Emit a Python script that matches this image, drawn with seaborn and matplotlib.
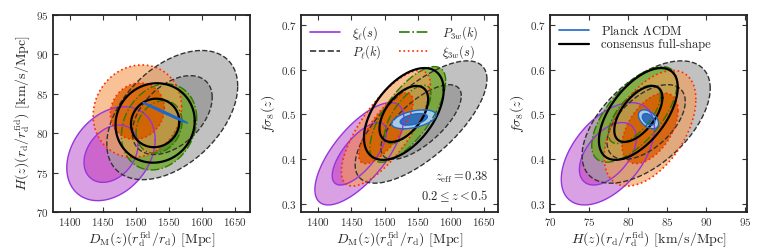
import numpy as np
import seaborn as sns
import matplotlib
matplotlib.use("Agg")
import matplotlib.pyplot as plt
from matplotlib.lines import Line2D
from matplotlib.path import Path
from matplotlib.patches import PathPatch
from matplotlib.colors import to_rgba

# Gaussian summaries: D_M, H, f sigma_8
names = ["xi_l", "P_l", "P_3w", "xi_3w", "consensus", "planck"]
dm_mean = [1462, 1555, 1535, 1502, 1529, 1544]
h_mean = [77.4, 82.3, 80.8, 82.8, 81.3, 82.6]
fs8_mean = [0.412, 0.483, 0.500, 0.469, 0.501, 0.489]
dm_err = [27, 40, 23, 27, 24.2, 13.5]
h_err = [2.4, 3.3, 2.2, 2.36, 2.03, 0.52]
fs8_err = [0.046, 0.055, 0.043, 0.052, 0.0413, 0.0085]
rho_dm_h = [0.3, 0.45, 0.2, 0.1, 0.05, -0.995]
rho_dm_fs8 = [0.7, 0.7, 0.7, 0.75, 0.52, 0.45]
rho_h_fs8 = [0.5, 0.55, 0.65, 0.5, 0.58, -0.45]

legend_fits = [r"$\xi_\ell(s)$", r"$P_\ell(k)$", r"$P_{3w}(k)$", r"$\xi_{3w}(s)$"]
legend_ref = [r"Planck $\Lambda$CDM", "consensus full-shape"]

# styles
fill_outer = ["#bb55cc", "#a0a0a0", "#6fa81f", "#f59d56", None, "#a8d0ee"]
fill_inner = ["#c040c0", "#808080", "#4d8a0f", "#e06000", None, "#2a6fc0"]
alpha_outer = [0.55, 0.65, 0.75, 0.62, 0, 0.95]
alpha_inner = [0.8, 0.75, 0.8, 0.88, 0, 0.95]
edge = ["#9933dd", "#333333", "#2a7a00", "#ff2a00", "black", "#1f66cc"]
styles = ["-", "--", "-.", ":", "-", "-"]
widths = [1.0, 1.0, 1.0, 1.2, 1.6, 1.0]

levels = [2.30, 6.17]  # 68% and 95% for two parameters

sns.set_theme(style="ticks")
plt.rcParams["font.family"] = "serif"
plt.rcParams["font.serif"] = ["cmr10"]
plt.rcParams["mathtext.fontset"] = "cm"
plt.rcParams["axes.formatter.use_mathtext"] = True
plt.rcParams["axes.unicode_minus"] = False

means = np.array([dm_mean, h_mean, fs8_mean])
errs = np.array([dm_err, h_err, fs8_err])
rhos = {(0, 1): rho_dm_h, (0, 2): rho_dm_fs8, (1, 2): rho_h_fs8}


def ellipse(k, i, j, level, n=240):
    sx, sy = errs[i, k], errs[j, k]
    r = rhos[(i, j)][k]
    cov = np.array([[sx * sx, r * sx * sy], [r * sx * sy, sy * sy]])
    L = np.linalg.cholesky(cov)
    t = np.linspace(0, 2 * np.pi, n)
    pts = (L @ np.vstack([np.cos(t), np.sin(t)])).T * np.sqrt(level)
    return pts + np.array([means[i, k], means[j, k]])


xlab_dm = r"$D_{\rm M}(z)(r_{\rm d}^{\rm fid}/r_{\rm d})$ [Mpc]"
lab_h = r"$H(z)(r_{\rm d}/r_{\rm d}^{\rm fid})$ [km/s/Mpc]"
lab_fs8 = r"$f\sigma_8(z)$"

panels = [
    dict(ix=0, iy=1, xlim=(1374, 1673), ylim=(70, 95), xt=np.arange(1400, 1651, 50),
         yt=np.arange(70, 96, 5), xl=xlab_dm, yl=lab_h, left=53),
    dict(ix=0, iy=2, xlim=(1374, 1671), ylim=(0.282, 0.722), xt=np.arange(1400, 1651, 50),
         yt=[0.3, 0.4, 0.5, 0.6, 0.7], xl=xlab_dm, yl=lab_fs8, left=301),
    dict(ix=1, iy=2, xlim=(70, 95.2), ylim=(0.282, 0.722), xt=np.arange(70, 96, 5),
         yt=[0.3, 0.4, 0.5, 0.6, 0.7], xl=lab_h, yl=lab_fs8, left=550),
]

fig = plt.figure(figsize=(7.64, 2.49), dpi=100)
axes = []
for p in panels:
    ax = fig.add_axes([p["left"] / 764, 37 / 249, 197 / 764, 197 / 249])
    axes.append(ax)
    i, j = p["ix"], p["iy"]
    for k in range(len(names)):
        inner = ellipse(k, i, j, levels[0])
        outer = ellipse(k, i, j, levels[1])
        if fill_outer[k] is not None:
            ring = Path.make_compound_path(Path(outer, closed=True),
                                           Path(inner[::-1], closed=True))
            ax.add_patch(PathPatch(ring, facecolor=to_rgba(fill_outer[k], alpha_outer[k]),
                                   edgecolor="none"))
            ax.add_patch(PathPatch(Path(inner, closed=True),
                                   facecolor=to_rgba(fill_inner[k], alpha_inner[k]),
                                   edgecolor="none"))
        for pts in (inner, outer):
            ax.plot(pts[:, 0], pts[:, 1], color=edge[k], ls=styles[k], lw=widths[k])
    ax.set_xlim(p["xlim"])
    ax.set_ylim(p["ylim"])
    ax.set_xticks(p["xt"])
    ax.set_yticks(p["yt"])
    ax.set_xlabel(p["xl"], fontsize=10, labelpad=1)
    ax.set_ylabel(p["yl"], fontsize=10, labelpad=3)
    ax.tick_params(direction="in", top=True, right=True, length=3.5, width=0.8,
                   labelsize=8, colors="#333333", labelcolor="#333333", pad=3)
    for s in ax.spines.values():
        s.set_linewidth(1.3)
        s.set_color("#222222")

# legends
h_fit = [Line2D([], [], color=edge[k], ls=styles[k], lw=1.2) for k in range(4)]
axes[1].legend(h_fit, legend_fits, ncol=2, loc="upper left", frameon=False,
               fontsize=9, handlelength=2.4, handletextpad=1.0, columnspacing=1.4,
               labelspacing=0.1, borderaxespad=0.3)
h_ref = [Line2D([], [], color=edge[5], lw=1.2), Line2D([], [], color=edge[4], lw=1.6)]
axes[2].legend(h_ref, legend_ref, loc="upper left", frameon=False, fontsize=9,
               handlelength=2.4, handletextpad=1.0, labelspacing=0.1, borderaxespad=0.3)

axes[1].text(0.95, 0.04, r"$z_{\rm eff}=0.38$" + "\n" + r"$0.2\leq z<0.5$",
             transform=axes[1].transAxes, ha="right", va="bottom", fontsize=9,
             linespacing=1.3)

fig.savefig("out.png", dpi=100)
